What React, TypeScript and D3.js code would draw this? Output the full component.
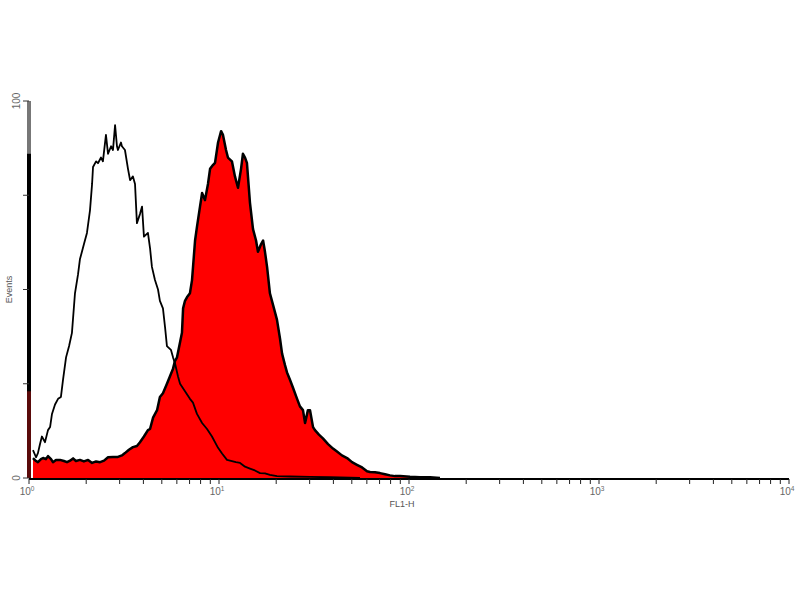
import { useEffect, useRef } from 'react';
import * as d3 from 'd3';

// FL1-H positions are stored as log10 values, counts as % of the max (Events)
const openLog = [
  0.021, 0.037, 0.047, 0.058, 0.068, 0.084, 0.1, 0.111, 0.121, 0.137, 0.153, 0.168, 0.179, 0.195,
  0.211, 0.226, 0.242, 0.258, 0.268, 0.289, 0.305, 0.321, 0.332, 0.337, 0.353, 0.363, 0.379, 0.389,
  0.405, 0.416, 0.432, 0.442, 0.453, 0.463, 0.468, 0.484, 0.489, 0.505, 0.521, 0.532, 0.547, 0.558,
  0.568, 0.584, 0.595, 0.605, 0.626, 0.637, 0.647, 0.663, 0.679, 0.689, 0.705, 0.716, 0.726, 0.747,
  0.758, 0.768, 0.784, 0.795, 0.821, 0.847, 0.863, 0.884, 0.911, 0.937, 0.963, 0.995, 1.016, 1.042,
  1.068, 1.089, 1.111, 1.137, 1.163, 1.189, 1.216, 1.242, 1.268, 1.305, 1.374, 1.479, 1.584, 1.742,
];
const openCounts = [
  7.4, 5.5, 6.6, 9, 11, 9.5, 12.7, 13.5, 17, 19.5, 21, 21.5, 26, 32,
  35, 38.5, 49, 54, 58, 62, 65, 71, 78, 82.5, 84, 83.5, 85, 84,
  91, 86, 88, 87, 93.6, 88, 87, 89, 88, 87, 82, 79, 80, 78,
  67.6, 70, 72, 64, 65, 61, 56, 52.5, 50, 47, 45, 40, 35, 34,
  32, 30.5, 27, 25, 23, 21, 20, 17, 14.6, 13, 11, 8, 6.5, 4.8,
  4.5, 4.2, 4, 3, 2.5, 2, 1.3, 1.2, 0.8, 0.5, 0.4, 0.3, 0.2, 0,
];

const redLog = [
  0.021, 0.037, 0.047, 0.063, 0.074, 0.089, 0.1, 0.116, 0.126, 0.142, 0.163, 0.184, 0.2, 0.216,
  0.232, 0.247, 0.268, 0.289, 0.311, 0.332, 0.353, 0.374, 0.395, 0.416, 0.442, 0.468, 0.489, 0.505,
  0.526, 0.547, 0.568, 0.584, 0.605, 0.626, 0.637, 0.653, 0.674, 0.689, 0.705, 0.726, 0.742, 0.758,
  0.768, 0.779, 0.795, 0.805, 0.811, 0.821, 0.832, 0.847, 0.858, 0.874, 0.884, 0.9, 0.911, 0.926,
  0.942, 0.953, 0.968, 0.979, 0.995, 1.011, 1.021, 1.037, 1.047, 1.068, 1.084, 1.1, 1.116, 1.126,
  1.137, 1.147, 1.163, 1.179, 1.195, 1.205, 1.221, 1.232, 1.242, 1.253, 1.268, 1.284, 1.305, 1.321,
  1.332, 1.347, 1.358, 1.374, 1.389, 1.411, 1.426, 1.442, 1.453, 1.468, 1.479, 1.495, 1.505, 1.526,
  1.547, 1.574, 1.6, 1.621, 1.647, 1.674, 1.7, 1.726, 1.753, 1.779, 1.795, 1.821, 1.847, 1.874,
  1.9, 1.926, 1.953, 2.005, 2.058, 2.111, 2.163,
];
const redCounts = [
  5.3, 4.5, 4.2, 5, 5.3, 5, 5.8, 5, 4.2, 4.8, 4.8, 4.5, 4.2, 4.6,
  5.2, 4.5, 4.8, 4.4, 4.8, 4, 4.4, 4.2, 4.6, 5.5, 5.6, 5.6, 6, 6.6,
  7.5, 8.2, 8.5, 9.5, 11, 12.7, 13, 16, 18, 21.5, 22.5, 25, 27, 29,
  31, 32, 36, 38.5, 45, 47, 48, 49, 52.5, 63, 66.6, 72, 75.6, 73.7,
  78, 82, 83, 83.6, 89, 92, 91, 87, 85, 84, 80, 77, 82, 86,
  85, 83.6, 73, 66, 63, 60, 62, 63, 60, 56, 49, 46, 42, 37,
  33, 30, 28, 26, 24, 21, 19, 18, 14.6, 18, 18, 13.5, 12.7, 11.5,
  10.5, 9, 7.8, 7, 6, 5.3, 4.2, 3.5, 2.8, 1.8, 1.6, 1.5, 1.3, 1,
  0.7, 0.5, 0.5, 0.3, 0.2, 0.2, 0,
];

// first channel (value 10^0) piles up on the axis
const openFirstBin = 86;
const redFirstBin = 23;

const yTicks = [0, 25, 50, 75, 100];
const yTickLabels = ['0', '', '', '', '100'];
const decades = [0, 1, 2, 3, 4];

const font = 'Arial, "Liberation Sans", sans-serif';

export default function App() {
  const svgRef = useRef<SVGSVGElement>(null);

  useEffect(() => {
    document.body.style.margin = '0';
    if (!svgRef.current) return;
    const svg = d3.select(svgRef.current);
    svg.selectAll('*').remove();

    const x = d3.scaleLog().domain([1, 1e4]).range([29, 789]);
    const y = d3.scaleLinear().domain([0, 100]).range([478, 101]);

    const red = redLog.map((l, i) => [x(10 ** l), y(redCounts[i])] as [number, number]);
    const open = openLog.map((l, i) => [x(10 ** l), y(openCounts[i])] as [number, number]);

    // red filled histogram
    const area = d3.area<[number, number]>()
      .x(d => d[0])
      .y0(y(0))
      .y1(d => d[1]);
    svg.append('path')
      .datum(red)
      .attr('d', area)
      .attr('fill', '#ff0000');
    svg.append('path')
      .datum(red)
      .attr('d', d3.line())
      .attr('fill', 'none')
      .attr('stroke', '#000')
      .attr('stroke-width', 2.5)
      .attr('stroke-linejoin', 'round');

    // open (control) histogram
    svg.append('path')
      .datum(open)
      .attr('d', d3.line())
      .attr('fill', 'none')
      .attr('stroke', '#000')
      .attr('stroke-width', 1.8)
      .attr('stroke-linejoin', 'round');

    // y axis line
    svg.append('line')
      .attr('x1', x(1)).attr('x2', x(1))
      .attr('y1', y(100)).attr('y2', y(0))
      .attr('stroke', '#777')
      .attr('stroke-width', 4);

    // first bins
    svg.append('rect')
      .attr('x', x(1) - 2)
      .attr('width', 4)
      .attr('y', y(openFirstBin))
      .attr('height', y(0) - y(openFirstBin))
      .attr('fill', '#000');
    svg.append('rect')
      .attr('x', x(1) - 2)
      .attr('width', 4)
      .attr('y', y(redFirstBin))
      .attr('height', y(0) - y(redFirstBin))
      .attr('fill', '#5a0a0a');

    // y ticks
    svg.append('g')
      .selectAll('line')
      .data(yTicks)
      .join('line')
      .attr('x1', x(1) - 6).attr('x2', x(1))
      .attr('y1', d => y(d)).attr('y2', d => y(d))
      .attr('stroke', '#333')
      .attr('stroke-width', 1);

    svg.append('g')
      .selectAll('text')
      .data(yTicks)
      .join('text')
      .attr('transform', d => `translate(20,${y(d)}) rotate(-90)`)
      .attr('text-anchor', 'middle')
      .style('font-family', font)
      .style('font-size', '10px')
      .attr('fill', '#666')
      .text((_, i) => yTickLabels[i]);

    svg.append('text')
      .attr('transform', `translate(12,${y(50)}) rotate(-90)`)
      .attr('text-anchor', 'middle')
      .style('font-family', font)
      .style('font-size', '9px')
      .attr('fill', '#555')
      .text('Events');

    // x axis
    svg.append('line')
      .attr('x1', x(1)).attr('x2', x(1e4))
      .attr('y1', 479).attr('y2', 479)
      .attr('stroke', '#000')
      .attr('stroke-width', 2);

    const minor: number[] = [];
    decades.slice(0, 4).forEach(p => {
      for (let k = 1; k <= 9; k++) minor.push(k * 10 ** p);
    });
    minor.push(1e4);

    svg.append('g')
      .selectAll('line')
      .data(minor)
      .join('line')
      .attr('x1', d => x(d)).attr('x2', d => x(d))
      .attr('y1', 479).attr('y2', 484)
      .attr('stroke', '#222')
      .attr('stroke-width', 1);

    const labels = svg.append('g')
      .selectAll('text')
      .data(decades)
      .join('text')
      .attr('x', d => x(10 ** d) - 2)
      .attr('y', 495)
      .attr('text-anchor', 'middle')
      .style('font-family', font)
      .style('font-size', '10px')
      .attr('fill', '#666');
    labels.append('tspan').text('10');
    labels.append('tspan')
      .attr('dy', -4)
      .style('font-size', '6.5px')
      .text(d => String(d));

    svg.append('text')
      .attr('x', 402)
      .attr('y', 507)
      .attr('text-anchor', 'middle')
      .style('font-family', font)
      .style('font-size', '9px')
      .attr('fill', '#555')
      .text('FL1-H');
  }, []);

  return <svg ref={svgRef} width={800} height={600} style={{ display: 'block', background: '#fff' }} />;
}
